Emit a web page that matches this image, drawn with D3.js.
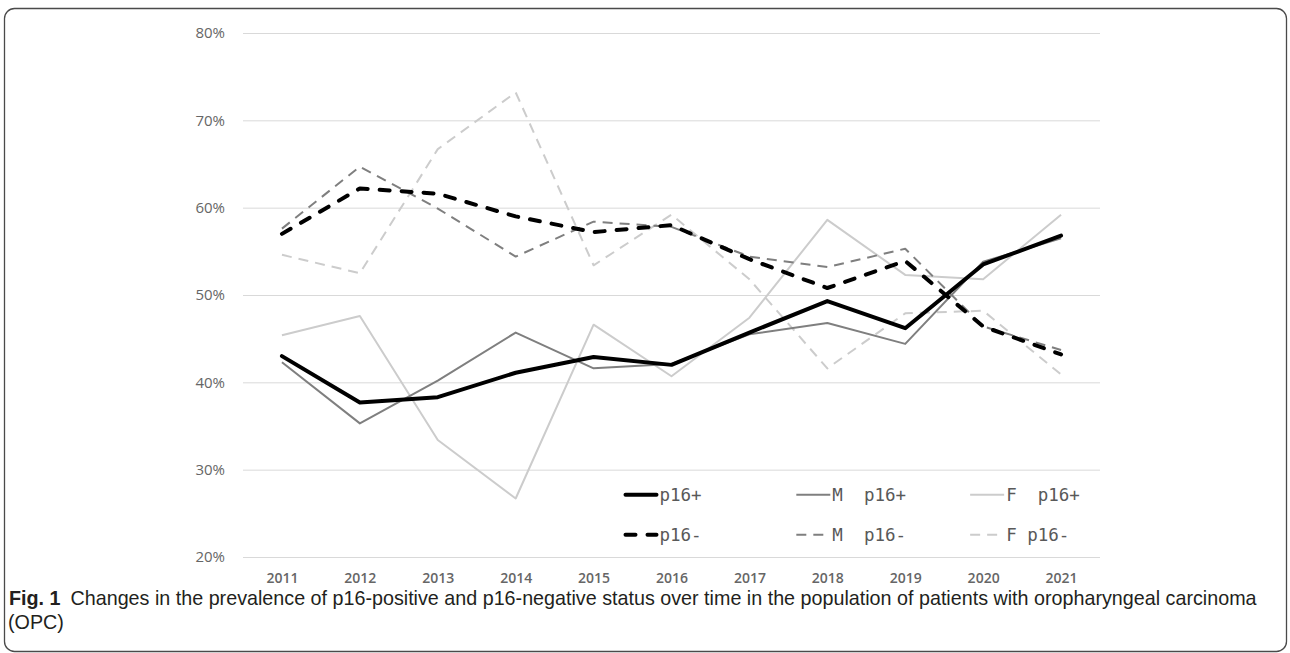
<!DOCTYPE html>
<html>
<head>
<meta charset="utf-8">
<script src="https://cdn.jsdelivr.net/npm/d3@7"></script>
<style>
  body { margin: 0; background: #fff; }
</style>
</head>
<body>
<script>
const years = ['2011', '2012', '2013', '2014', '2015', '2016', '2017', '2018', '2019', '2020', '2021'];
const yTicks = [0.2, 0.3, 0.4, 0.5, 0.6, 0.7, 0.8];

// values in percent
const allPos = [43.0, 37.7, 38.3, 41.1, 42.9, 42.0, 45.7, 49.3, 46.2, 53.5, 56.8];
const malePos = [42.3, 35.3, 40.2, 45.7, 41.6, 42.1, 45.5, 46.8, 44.4, 53.8, 56.5];
const femalePos = [45.4, 47.6, 33.4, 26.7, 46.6, 40.7, 47.4, 58.6, 52.3, 51.8, 59.2];
const allNeg = [57.0, 62.2, 61.6, 59.0, 57.2, 58.0, 54.1, 50.8, 53.9, 46.4, 43.2];
const maleNeg = [57.6, 64.7, 59.9, 54.4, 58.4, 57.8, 54.4, 53.2, 55.3, 46.4, 43.7];
const femaleNeg = [54.6, 52.5, 66.7, 73.2, 53.4, 59.2, 51.8, 41.6, 47.9, 48.2, 40.9];

const seriesNames = ['p16+', 'M  p16+', 'F  p16+', 'p16-', 'M  p16-', 'F p16-'];

const captionBold = 'Fig. 1';
const captionText = 'Changes in the prevalence of p16-positive and p16-negative status over time in the population of patients with oropharyngeal carcinoma';
const captionText2 = '(OPC)';

const svgWidth = 1290;
const svgHeight = 653;
const margin = { top: 33, bottom: 96, right: 190, left: 243 };
const width = svgWidth - margin.left - margin.right;
const height = svgHeight - margin.top - margin.bottom;

const styles = [
    { color: '#000000', width: 4, dash: null, cap: 'round' },
    { color: '#7f7f7f', width: 2, dash: null, cap: 'butt' },
    { color: '#cccccc', width: 2, dash: null, cap: 'butt' },
    { color: '#000000', width: 4, dash: '10,12', cap: 'round' },
    { color: '#7f7f7f', width: 2, dash: '10,7', cap: 'butt' },
    { color: '#cccccc', width: 2, dash: '10,7', cap: 'butt' }
];
const values = [allPos, malePos, femalePos, allNeg, maleNeg, femaleNeg];

const root = d3.select('body')
    .append('svg')
    .attr('width', svgWidth)
    .attr('height', svgHeight);

// frame
root.append('rect')
    .attr('x', 4.5)
    .attr('y', 8.5)
    .attr('width', 1282)
    .attr('height', 643)
    .attr('rx', 10)
    .attr('fill', 'none')
    .attr('stroke', '#4a4a4a')
    .attr('stroke-width', 1.3);

const svg = root.append('g')
    .attr('transform', `translate(${margin.left}, ${margin.top})`);

const x = d3.scalePoint()
    .domain(years)
    .range([0, width])
    .padding(0.5);

const y = d3.scaleLinear()
    .domain([0.2, 0.8])
    .range([height, 0]);

// gridlines
svg.append('g')
    .call(d3.axisLeft(y).tickValues(yTicks).tickSize(-width).tickFormat(''))
    .call(g => g.select('.domain').remove())
    .selectAll('line')
    .attr('stroke', '#d9d9d9')
    .attr('stroke-width', 1);

// y labels
svg.append('g')
    .call(d3.axisLeft(y).tickValues(yTicks).tickSize(0).tickPadding(18).tickFormat(d3.format('.0%')))
    .call(g => g.select('.domain').remove())
    .selectAll('text')
    .style('font-family', 'Open Sans')
    .style('font-size', '15px')
    .style('fill', '#666666');

// x labels
svg.append('g')
    .attr('transform', `translate(0,${height})`)
    .call(d3.axisBottom(x).tickSize(0).tickPadding(16))
    .call(g => g.select('.domain').remove())
    .selectAll('text')
    .style('font-family', 'Open Sans')
    .style('font-size', '14px')
    .style('font-weight', '600')
    .style('fill', '#666666');

const line = d3.line()
    .x((d, i) => x(years[i]))
    .y(d => y(d / 100));

// light series first so the black ones sit on top
[2, 5, 1, 4, 0, 3].forEach(k => {
    const s = styles[k];
    svg.append('path')
        .datum(values[k])
        .attr('d', line)
        .attr('fill', 'none')
        .attr('stroke', s.color)
        .attr('stroke-width', s.width)
        .attr('stroke-linejoin', 'round')
        .attr('stroke-linecap', s.cap)
        .attr('stroke-dasharray', s.dash);
});

// legend, 3 columns by 2 rows
const legendX = [x('2016') - 48, x('2018') - 31, x('2020') - 13];
const legendY = [y(0.30) + 25, y(0.30) + 65];
seriesNames.forEach((name, k) => {
    const s = styles[k];
    const lx = legendX[k % 3];
    const ly = legendY[Math.floor(k / 3)];
    const g = svg.append('g').attr('transform', `translate(${lx},${ly})`);
    g.append('line')
        .attr('x1', s.cap === 'round' ? 2 : 0)
        .attr('x2', s.cap === 'round' ? 33 : 34)
        .attr('y1', 0)
        .attr('y2', 0)
        .attr('stroke', s.color)
        .attr('stroke-width', s.width)
        .attr('stroke-linecap', s.cap)
        .attr('stroke-dasharray', s.dash);
    g.append('text')
        .attr('x', 36)
        .attr('y', 0)
        .attr('dy', '0.35em')
        .style('font-family', 'DejaVu Sans Mono')
        .style('font-size', '17.5px')
        .style('fill', '#595959')
        .style('white-space', 'pre')
        .text(name);
});

// caption
const cap = root.append('text')
    .attr('x', 9)
    .attr('y', 605)
    .style('font-family', 'Liberation Sans')
    .style('font-size', '16px')
    .style('fill', '#231f20');
cap.append('tspan').style('font-weight', 'bold').text(captionBold);
cap.append('tspan').attr('dx', 10).text(captionText);

// fit caption width to the figure
const capWidth = cap.node().getComputedTextLength();
const fitted = 16 * 1238 / capWidth;
cap.style('font-size', fitted + 'px');

root.append('text')
    .attr('x', 8)
    .attr('y', 629)
    .style('font-family', 'Liberation Sans')
    .style('font-size', fitted + 'px')
    .style('fill', '#231f20')
    .text(captionText2);
</script>
</body>
</html>
